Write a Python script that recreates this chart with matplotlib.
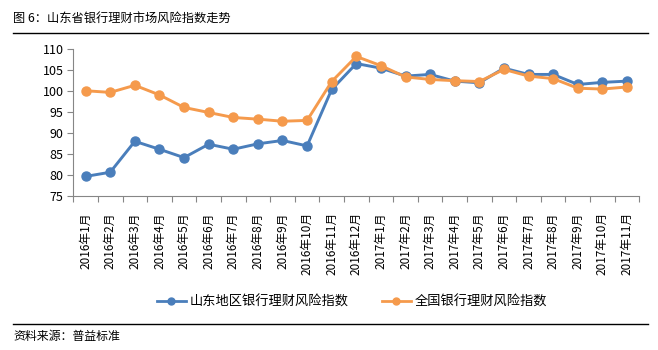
import matplotlib.pyplot as plt
from matplotlib.lines import Line2D

plt.rcParams['font.family'] = ['Noto Sans CJK SC', 'DejaVu Sans']

months = ['2016年1月', '2016年2月', '2016年3月', '2016年4月', '2016年5月', '2016年6月',
          '2016年7月', '2016年8月', '2016年9月', '2016年10月', '2016年11月', '2016年12月',
          '2017年1月', '2017年2月', '2017年3月', '2017年4月', '2017年5月', '2017年6月',
          '2017年7月', '2017年8月', '2017年9月', '2017年10月', '2017年11月']
shandong = [79.6, 80.6, 88.0, 86.1, 84.1, 87.3, 86.1, 87.4, 88.2, 86.9, 100.4, 106.6,
            105.5, 103.6, 104.0, 102.4, 102.0, 105.5, 104.0, 104.0, 101.6, 102.1, 102.4]
national = [100.1, 99.7, 101.4, 99.1, 96.1, 94.9, 93.7, 93.3, 92.8, 93.0, 102.3, 108.3,
            106.1, 103.4, 102.8, 102.5, 102.3, 105.2, 103.6, 103.0, 100.7, 100.5, 101.0]
yticks = [75, 80, 85, 90, 95, 100, 105, 110]

blue = '#4A7EBB'
orange = '#F59A4C'
grey = '#868686'

fig = plt.figure(figsize=(6.58, 3.5), dpi=100)
ax = fig.add_axes([0.1114, 0.441, 0.8602, 0.418])

x = list(range(len(months)))
ax.plot(x, shandong, color=blue, lw=2.1, marker='o', ms=6.5, zorder=3)
ax.plot(x, national, color=orange, lw=2.1, marker='o', ms=6.5, zorder=4)

ax.set_xlim(-0.5, len(months) - 0.5)
ax.set_ylim(75, 110)
ax.set_yticks(yticks)
ax.tick_params(axis='y', labelsize=9, length=4, color=grey, pad=3)

# ticks sit between categories, labels under each category
ax.set_xticks([i - 0.5 for i in range(len(months) + 1)])
ax.set_xticklabels([])
ax.set_xticks(x, minor=True)
ax.set_xticklabels(months, minor=True, rotation=90, fontsize=8.5)
ax.tick_params(axis='x', which='major', length=4, color=grey)
ax.tick_params(axis='x', which='minor', length=0, pad=12)

for side in ['top', 'right']:
    ax.spines[side].set_visible(False)
ax.spines['left'].set_color(grey)
ax.spines['bottom'].set_color(grey)

handles = [Line2D([0], [0], color=blue, lw=2, marker='o', ms=5),
           Line2D([0], [0], color=orange, lw=2, marker='o', ms=5)]
fig.legend(handles, ['山东地区银行理财风险指数', '全国银行理财风险指数'],
           loc='center', bbox_to_anchor=(0.535, 0.138), ncol=2, frameon=False,
           fontsize=9.5, handlelength=2.2, handletextpad=0.3, columnspacing=2.5)

fig.text(0.02, 0.948, '图 6：山东省银行理财市场风险指数走势', fontsize=8.8, va='center')
fig.add_artist(Line2D([0.02, 0.985], [0.907, 0.907], color='black', lw=1))
fig.add_artist(Line2D([0.02, 0.985], [0.074, 0.074], color='black', lw=1))
fig.text(0.02, 0.038, '资料来源：普益标准', fontsize=8.6, va='center')

fig.savefig('out.png', dpi=100)
